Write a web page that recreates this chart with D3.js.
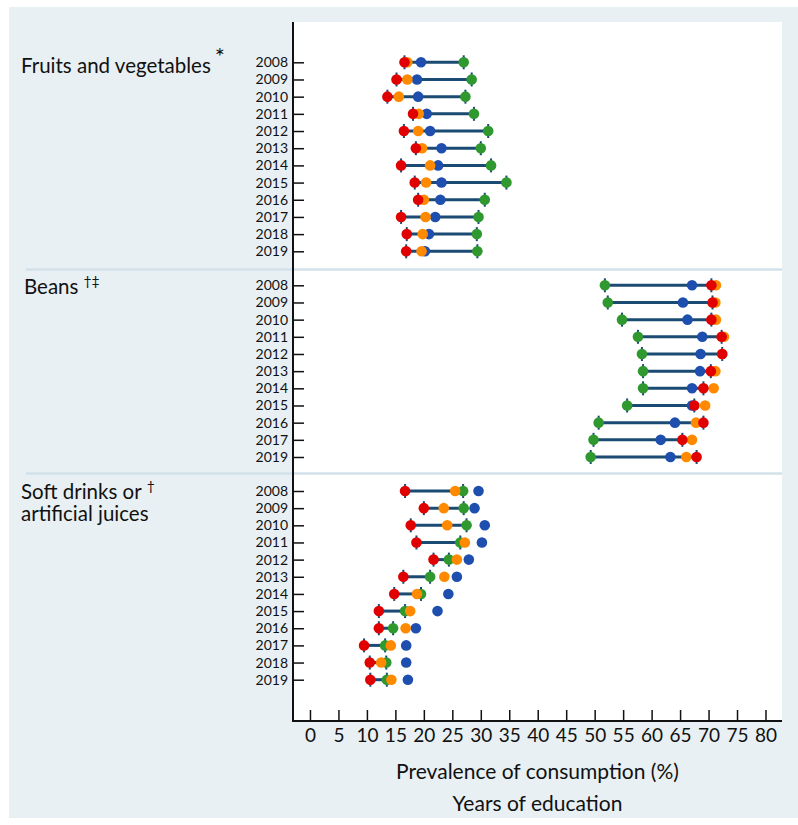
<!DOCTYPE html>
<html>
<head>
<meta charset="utf-8">
<script src="https://cdn.jsdelivr.net/npm/d3@7"></script>
<style>
  html, body { margin: 0; padding: 0; background: #ffffff; }
  svg { display: block; }
  text { font-family: Lato, "Open Sans", sans-serif; fill: #111; }
</style>
</head>
<body>
<svg id="chart" width="798" height="825"></svg>
<script>
// ---------------- DATA ----------------
const educationGroups = ["0–4", "5–8", "9–11", "≥12"];
const groupColors = ["#e00000", "#ff8a00", "#1f4fae", "#2f982f"];

const fruitsYears = ["2008","2009","2010","2011","2012","2013","2014","2015","2016","2017","2018","2019"];
const fruitsEdu0_4  = [16.6, 15.2, 13.6, 18.1, 16.5, 18.6, 16.0, 18.4, 19.0, 16.0, 17.0, 16.9];
const fruitsEdu5_8  = [17.1, 17.1, 15.6, 19.1, 19.0, 19.7, 21.1, 20.4, 20.0, 20.3, 19.8, 19.6];
const fruitsEdu9_11 = [19.5, 18.8, 19.0, 20.5, 21.1, 23.1, 22.5, 23.1, 22.9, 22.0, 20.9, 20.2];
const fruitsEdu12   = [27.0, 28.4, 27.3, 28.8, 31.3, 30.0, 31.8, 34.5, 30.7, 29.6, 29.3, 29.4];

const beansYears = ["2008","2009","2010","2011","2012","2013","2014","2015","2016","2017","2019"];
const beansEdu0_4  = [70.5, 70.7, 70.5, 72.3, 72.4, 70.4, 69.1, 67.5, 69.1, 65.4, 67.9];
const beansEdu5_8  = [71.3, 71.2, 71.3, 72.7, 72.4, 71.2, 70.9, 69.4, 67.8, 67.1, 66.1];
const beansEdu9_11 = [67.1, 65.5, 66.3, 68.9, 68.6, 68.5, 67.1, 67.1, 64.1, 61.6, 63.3];
const beansEdu12   = [51.8, 52.3, 54.8, 57.6, 58.3, 58.5, 58.5, 55.7, 50.7, 49.8, 49.3];

const softYears = ["2008","2009","2010","2011","2012","2013","2014","2015","2016","2017","2018","2019"];
const softEdu0_4  = [16.7, 20.0, 17.7, 18.7, 21.7, 16.4, 14.8, 12.1, 12.1, 9.5, 10.5, 10.6];
const softEdu5_8  = [25.5, 23.5, 24.1, 27.2, 25.8, 23.6, 18.8, 17.6, 16.8, 14.2, 12.5, 14.3];
const softEdu9_11 = [29.6, 28.9, 30.7, 30.2, 27.9, 25.8, 24.3, 22.4, 18.6, 16.9, 16.9, 17.2];
const softEdu12   = [26.9, 27.0, 27.5, 26.4, 24.4, 21.1, 19.5, 16.7, 14.6, 13.2, 13.4, 13.5];

const xTicks = [0,5,10,15,20,25,30,35,40,45,50,55,60,65,70,75,80];
const xAxisTitle = "Prevalence of consumption (%)";
const legendTitle = "Years of education";

const panels = [
  { label: "Fruits and vegetables", sup: "*", years: fruitsYears,
    series: [fruitsEdu0_4, fruitsEdu5_8, fruitsEdu9_11, fruitsEdu12] },
  { label: "Beans", sup: "†‡", years: beansYears,
    series: [beansEdu0_4, beansEdu5_8, beansEdu9_11, beansEdu12] },
  { label: "Soft drinks or", label2: "artificial juices", sup: "†", years: softYears,
    series: [softEdu0_4, softEdu5_8, softEdu9_11, softEdu12] }
];

// ---------------- LAYOUT ----------------
const svg = d3.select("#chart");
const plotL = 293, plotR = 782, plotT = 22, plotB = 721;
const panelRows = [[62.3, 251.3], [285.3, 457], [491, 679.7]];
const labelPos = [[21, 73], [24, 294], [21, 499]];
const supSize = [24, 14, 14];
const supDy = [-8, -8, -8];
const supDx = [4, 5, 5];
const separators = [269.5, 473.5];

// background panel
svg.append("rect").attr("x", 9).attr("y", 7).attr("width", 789).attr("height", 811)
  .attr("fill", "#e8f0f3");
svg.append("rect").attr("x", plotL).attr("y", plotT).attr("width", plotR - plotL).attr("height", plotB - plotT)
  .attr("fill", "#ffffff");

// separators
separators.forEach(y => {
  svg.append("line").attr("x1", 26).attr("x2", plotR).attr("y1", y).attr("y2", y)
    .attr("stroke", "#d3e1e8").attr("stroke-width", 2.5);
});

const x = d3.scaleLinear().domain([-2.98, 82.9]).range([plotL, plotR]);

panels.forEach((p, i) => {
  const y = d3.scalePoint().domain(p.years).range(panelRows[i]);
  const g = svg.append("g");

  // y axis ticks and labels
  const ya = d3.axisLeft(y).tickSizeInner(-11).tickSizeOuter(0).tickPadding(5);
  const ag = svg.append("g").attr("transform", `translate(${plotL},0)`).call(ya);
  ag.select(".domain").remove();
  ag.selectAll(".tick line").attr("stroke", "#111").attr("stroke-width", 1.5);
  ag.selectAll(".tick text").attr("font-size", 14).attr("font-family", "Lato, sans-serif")
    .attr("fill", "#111").attr("x", -5);

  const rows = p.years.map((yr, k) => ({ yr, v: p.series.map(s => s[k]) }));

  // range line from lowest (0-4) to highest (>=12) education group
  g.selectAll("line.range").data(rows).join("line")
    .attr("x1", d => x(d.v[0])).attr("x2", d => x(d.v[3]))
    .attr("y1", d => y(d.yr)).attr("y2", d => y(d.yr))
    .attr("stroke", "#1b4a72").attr("stroke-width", 3);

  // caps
  [0, 3].forEach(si => {
    g.selectAll("line.cap" + si).data(rows).join("line")
      .attr("x1", d => x(d.v[si])).attr("x2", d => x(d.v[si]))
      .attr("y1", d => y(d.yr) - 7).attr("y2", d => y(d.yr) + 7)
      .attr("stroke", "#1b4a72").attr("stroke-width", 2);
  });

  // dots: draw order blue, green, orange, red
  [2, 3, 1, 0].forEach(si => {
    g.selectAll("circle.s" + si).data(rows).join("circle")
      .attr("cx", d => x(d.v[si])).attr("cy", d => y(d.yr)).attr("r", 5.3)
      .attr("fill", groupColors[si]);
  });

  // panel label
  const t = svg.append("text").attr("x", labelPos[i][0]).attr("y", labelPos[i][1])
    .attr("font-size", 20.5).text(p.label);
  t.append("tspan").attr("dy", supDy[i]).attr("dx", supDx[i]).attr("font-size", supSize[i]).text(p.sup);
  if (p.label2) {
    svg.append("text").attr("x", labelPos[i][0]).attr("y", labelPos[i][1] + 22)
      .attr("font-size", 20.5).text(p.label2);
  }
});

// axes lines
svg.append("line").attr("x1", plotL).attr("x2", plotL).attr("y1", plotT).attr("y2", plotB + 1)
  .attr("stroke", "#111").attr("stroke-width", 2);
svg.append("line").attr("x1", plotL - 1).attr("x2", plotR).attr("y1", plotB).attr("y2", plotB)
  .attr("stroke", "#111").attr("stroke-width", 2);

// x axis
const xa = d3.axisBottom(x).tickValues(xTicks).tickSizeInner(-11).tickSizeOuter(0).tickPadding(8);
const xg = svg.append("g").attr("transform", `translate(0,${plotB})`).call(xa);
xg.select(".domain").remove();
xg.selectAll(".tick line").attr("stroke", "#111").attr("stroke-width", 1.5);
xg.selectAll(".tick text").attr("font-size", 19).attr("font-family", "Lato, sans-serif").attr("fill", "#111");

// titles
svg.append("text").attr("x", (plotL + plotR) / 2).attr("y", 779).attr("text-anchor", "middle")
  .attr("font-size", 21).text(xAxisTitle);
svg.append("text").attr("x", (plotL + plotR) / 2).attr("y", 811).attr("text-anchor", "middle")
  .attr("font-size", 21).text(legendTitle);
</script>
</body>
</html>
